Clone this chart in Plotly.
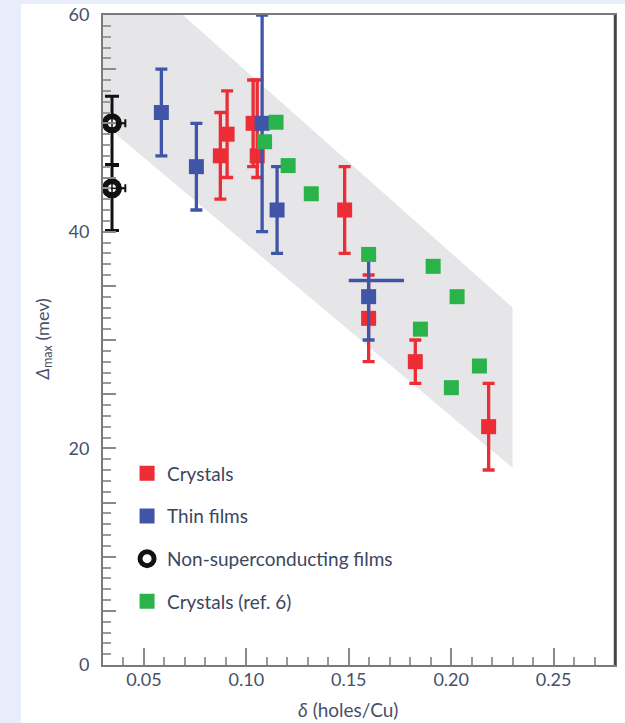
import plotly.graph_objects as go

# Gap energy vs hole doping, with error bars and the shaded trend band
crystals_x = [0.0873, 0.0906, 0.1033, 0.1053, 0.148, 0.1597, 0.1825, 0.2183]
crystals_y = [47, 49, 50, 47, 42, 32, 28, 22]
crystals_err_up = [4, 4, 4, 7, 4, 4, 2, 4]
crystals_err_down = [4, 4, 4, 2, 4, 4, 2, 4]

films_x = [0.0585, 0.0756, 0.1077, 0.115, 0.1597]
films_y = [51, 46, 50, 42, 34]
films_err = [4, 4, 10, 4, 4]

# horizontal doping range for one thin film
films_range_x = [0.16]
films_range_y = [35.5]
films_range_minus = [0.010]
films_range_plus = [0.017]

nonsc_x = [0.0344, 0.0344]
nonsc_y = [50, 44]
nonsc_err_up = [2.5, 2.1]
nonsc_err_down = [3.8, 3.9]
nonsc_err_x = [0.0065, 0.0065]

ref6_x = [0.1089, 0.1145, 0.1204, 0.1317, 0.1597, 0.185, 0.1912, 0.2001, 0.2029, 0.2138]
ref6_y = [48.3, 50.1, 46.1, 43.5, 37.9, 31.0, 36.8, 25.6, 34.0, 27.6]

band_x = [0.03, 0.069, 0.23, 0.23, 0.03]
band_y = [60, 60, 33, 18.2, 50]

y_tickvals = list(range(0, 61, 5))
y_ticktext = [str(v) if v % 20 == 0 else "" for v in y_tickvals]
x_tickvals = [0.05, 0.10, 0.15, 0.20, 0.25]
x_ticktext = ["0.05", "0.10", "0.15", "0.20", "0.25"]

RED = "#EC2D35"
BLUE = "#4055A8"
GREEN = "#2AB24B"
BLACK = "#111111"
TEXT = "#46506a"

fig = go.Figure()

fig.add_trace(go.Scatter(
    x=band_x, y=band_y, mode="lines", fill="toself",
    fillcolor="#E6E6E9", line=dict(width=0), showlegend=False, hoverinfo="skip"))

fig.add_trace(go.Scatter(
    x=crystals_x, y=crystals_y, mode="markers", name="Crystals",
    legendgroup="a",
    marker=dict(symbol="square", size=15, color=RED, line=dict(width=0)),
    error_y=dict(type="data", symmetric=False, array=crystals_err_up,
                 arrayminus=crystals_err_down, color=RED, thickness=3.3, width=6)))

fig.add_trace(go.Scatter(
    x=films_x, y=films_y, mode="markers", name="Thin films",
    legendgroup="b",
    marker=dict(symbol="square", size=15, color=BLUE, line=dict(width=0)),
    error_y=dict(type="data", array=films_err, color=BLUE, thickness=3.3, width=6)))

fig.add_trace(go.Scatter(
    x=films_range_x, y=films_range_y, mode="markers", showlegend=False,
    legendgroup="b",
    marker=dict(size=1, color="rgba(0,0,0,0)"),
    error_x=dict(type="data", symmetric=False, array=films_range_plus,
                 arrayminus=films_range_minus, color=BLUE, thickness=3.5, width=0)))

fig.add_trace(go.Scatter(
    x=nonsc_x, y=nonsc_y, mode="markers", name="Non-superconducting films",
    legendgroup="c",
    marker=dict(symbol="circle", size=14, color="white", line=dict(width=6, color=BLACK)),
    error_y=dict(type="data", symmetric=False, array=nonsc_err_up,
                 arrayminus=nonsc_err_down, color=BLACK, thickness=3, width=7),
    error_x=dict(type="data", array=nonsc_err_x, color=BLACK, thickness=2, width=4)))

# thin cross-hairs drawn over the ring markers
fig.add_trace(go.Scatter(
    x=nonsc_x, y=nonsc_y, mode="markers", showlegend=False, legendgroup="c",
    marker=dict(size=1, color="rgba(0,0,0,0)"),
    error_y=dict(type="data", symmetric=False, array=nonsc_err_up,
                 arrayminus=nonsc_err_down, color=BLACK, thickness=1.5, width=0),
    error_x=dict(type="data", array=nonsc_err_x, color=BLACK, thickness=1.5, width=0)))

fig.add_trace(go.Scatter(
    x=ref6_x, y=ref6_y, mode="markers", name="Crystals (ref. 6)",
    legendgroup="d",
    marker=dict(symbol="square", size=15, color=GREEN, line=dict(width=0))))

fig.update_xaxes(
    range=[0.03, 0.28], tickvals=x_tickvals, ticktext=x_ticktext,
    ticks="inside", ticklen=17, tickwidth=1.5, tickcolor="#8a8a8a",
    minor=dict(dtick=0.01, tick0=0, ticks="inside", ticklen=8, tickwidth=1.5, tickcolor="#9a9a9a"),
    showline=True, linecolor="#7a7a7a", linewidth=2, mirror=True,
    showgrid=False, zeroline=False, ticklabelstandoff=-3, automargin=False,
    tickfont=dict(family="Lato", size=18, color=TEXT))

fig.update_yaxes(
    range=[0, 60], tickvals=y_tickvals, ticktext=y_ticktext,
    ticks="inside", ticklen=13, tickwidth=1.5, tickcolor="#8a8a8a",
    minor=dict(dtick=1, tick0=0, ticks="inside", ticklen=8, tickwidth=1.5, tickcolor="#9a9a9a"),
    showline=True, linecolor="#7a7a7a", linewidth=2, mirror=True,
    showgrid=False, zeroline=False, ticklabelstandoff=8, automargin=False,
    tickfont=dict(family="Lato", size=18, color=TEXT))

fig.update_layout(
    width=625, height=723,
    margin=dict(l=103, r=10, t=15, b=58, autoexpand=False),
    paper_bgcolor="#E8EDFB",
    plot_bgcolor="white",
    showlegend=True,
    legend=dict(
        x=0.047, y=0.324, xanchor="left", yanchor="top",
        bgcolor="rgba(0,0,0,0)", traceorder="grouped", tracegroupgap=15,
        font=dict(family="Lato", size=19, color="#3b4660")),
    shapes=[
        dict(type="rect", xref="paper", yref="paper", x0=-0.16, x1=1.05,
             y0=-0.12, y1=1.017, fillcolor="white", line=dict(width=0), layer="below"),
        dict(type="line", xref="paper", yref="paper", x0=1, x1=1, y0=0, y1=1,
             line=dict(color="#444444", width=2.5)),
    ],
    annotations=[
        dict(text="<i>δ</i> (holes/Cu)", xref="paper", yref="paper",
             x=0.479, y=-0.069, xanchor="center", yanchor="middle", showarrow=False,
             font=dict(family="Lato", size=19, color=TEXT)),
        dict(text="<i>Δ</i><sub>max</sub> (mev)", xref="paper", yref="paper",
             x=-0.118, y=0.5, xanchor="center", yanchor="middle",
             textangle=-90, showarrow=False,
             font=dict(family="Lato", size=18, color=TEXT)),
    ],
)

fig.write_html("out.html")
